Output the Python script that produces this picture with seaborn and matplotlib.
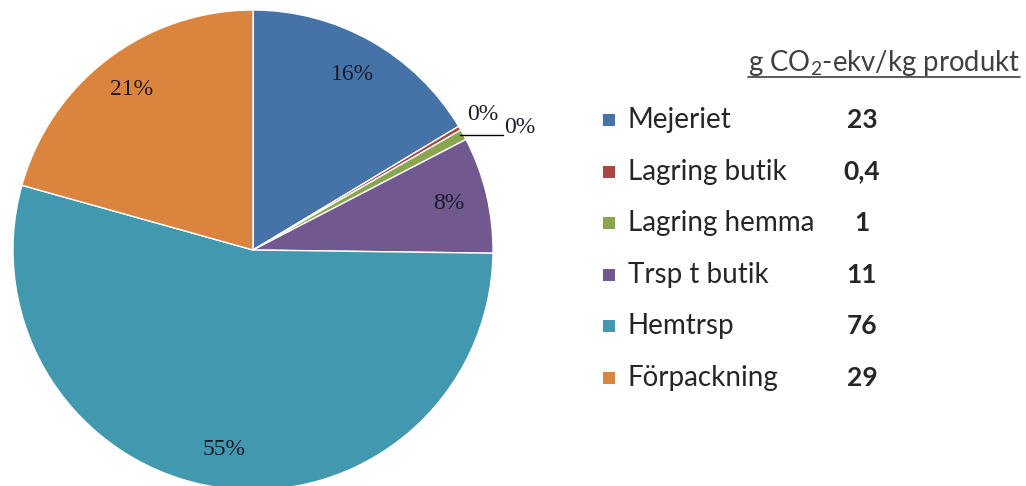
import numpy as np
import matplotlib
matplotlib.use("Agg")
import matplotlib.pyplot as plt
import seaborn as sns
from matplotlib.patches import Rectangle

categories = ["Mejeriet", "Lagring butik", "Lagring hemma", "Trsp t butik", "Hemtrsp", "Förpackning"]
values = [23, 0.4, 1, 11, 76, 29]
value_labels = ["23", "0,4", "1", "11", "76", "29"]
pct_labels = ["16%", "0%", "0%", "8%", "55%", "21%"]
header = "g CO$_\\mathregular{2}$-ekv/kg produkt"

colors = ["#4572A7", "#AA4643", "#89A54E", "#71588F", "#4198AF", "#DB843D"]

sns.set_theme(style="white")
plt.rcParams['font.family'] = ['Lato', 'DejaVu Sans']
plt.rcParams['mathtext.fontset'] = 'custom'
plt.rcParams['mathtext.rm'] = 'Lato'

W, H = 1026, 486
fig = plt.figure(figsize=(W / 100, H / 100), dpi=100)
fig.patch.set_facecolor("white")
ax = fig.add_axes([0, 0, 1, 1])

cx, cy, r = 253, H - 250, 240
wedges, _, autotexts = ax.pie(values, colors=sns.color_palette(colors), startangle=90, counterclock=False,
                              center=(cx, cy), radius=r, autopct=lambda p: "", pctdistance=0.84,
                              wedgeprops=dict(edgecolor="white", linewidth=1), frame=True)
ax.set_xlim(0, W)
ax.set_ylim(0, H)
ax.set_aspect("equal")
ax.axis("off")

serif = dict(family="Liberation Serif", fontsize=17, color="#1a1a2a")
for i, (t, w) in enumerate(zip(autotexts, wedges)):
    t.set_text(pct_labels[i])
    t.set(**serif)
    mid = np.deg2rad((w.theta1 + w.theta2) / 2)
    if i == 1:
        t.set_position((cx + 1.11 * r * np.cos(mid), cy + 1.11 * r * np.sin(mid)))
    elif i == 2:
        t.set_visible(False)
        ex, ey = cx + r * np.cos(mid), cy + r * np.sin(mid)
        ax.plot([ex - 3, ex + 40], [ey, ey], color="black", lw=1)
        ax.text(ex + 41, ey + 7, pct_labels[i], ha="left", va="center", **serif)

# legend block
row0, step = H - 120, 51.6
for i, cat in enumerate(categories):
    y = row0 - i * step
    ax.add_patch(Rectangle((603, y - 6), 12, 12, color=colors[i], lw=0))
    ax.text(628, y, cat, ha="left", va="center", fontsize=20, color="#262626")
    ax.text(862, y, value_labels[i], ha="center", va="center", fontsize=19,
            fontweight="bold", color="#262626")

ht = ax.text(748, H - 63, header, ha="left", va="center", fontsize=19.8, color="#404040")
fig.canvas.draw()
bb = ht.get_window_extent().transformed(ax.transData.inverted())
ax.plot([bb.x0, bb.x1], [H - 77, H - 77], color="#404040", lw=1.2)

fig.savefig("out.png", dpi=100, facecolor="white")
